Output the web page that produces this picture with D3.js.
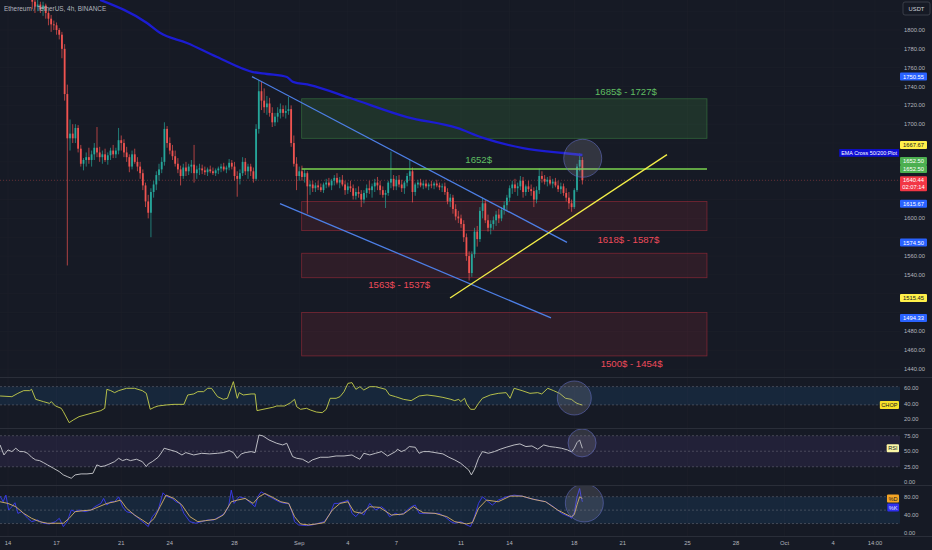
<!DOCTYPE html>
<html><head><meta charset="utf-8">
<script src="https://cdn.jsdelivr.net/npm/d3@7"></script>
<style>
html,body{margin:0;padding:0;background:#161a25;overflow:hidden;}
svg{display:block;font-family:"Liberation Sans",Arial,sans-serif;}
</style></head><body>
<svg id="c" width="932" height="550"></svg>
<script>
// ---------------- DATA ----------------
const title = "Ethereum / TetherUS, 4h, BINANCE";
const startDate = "2023-08-14 00:00";   // first 4h candle
// 4h candles, one day (6 bars) per group
const opens = [
1840,1843,1848,1846,1850,1845, 1842,1845,1840,1838,1830,1825, 1827,1822,1826,1818,1812,1806,
1805,1800,1795,1780,1732,1685, 1690,1685,1696,1674,1658,1662, 1665,1662,1668,1675,1670,1665,
1668,1662,1667,1672,1668,1672, 1683,1680,1670,1665,1655,1668, 1660,1655,1648,1635,1618,1606,
1628,1636,1646,1652,1660,1695, 1680,1672,1666,1658,1652,1645, 1654,1650,1655,1657,1648,1652,
1653,1651,1649,1652,1650,1648, 1651,1653,1655,1652,1654,1659, 1655,1645,1642,1648,1660,1650,
1655,1650,1642,1695,1735,1725, 1718,1722,1712,1702,1708,1712, 1716,1712,1714,1716,1680,1658,
1645,1650,1644,1648,1634,1636, 1632,1635,1633,1630,1636,1638, 1635,1640,1643,1638,1641,1636,
1630,1634,1632,1624,1628,1626, 1620,1627,1632,1630,1634,1638, 1635,1630,1625,1627,1638,1642,
1634,1641,1636,1632,1638,1645, 1650,1628,1636,1638,1635,1637, 1634,1636,1635,1637,1635,1633,
1634,1628,1618,1622,1610,1602, 1600,1594,1580,1560,1542,1562, 1586,1578,1608,1616,1598,1590,
1594,1598,1604,1600,1609,1614, 1622,1632,1636,1632,1634,1640, 1628,1634,1631,1629,1620,1630,
1645,1642,1639,1641,1637,1639, 1635,1631,1634,1627,1622,1616, 1612,1630,1655,1662];
const highs = [
1848,1852,1853,1856,1854,1849, 1850,1847,1843,1840,1833,1832, 1830,1830,1828,1820,1816,1810,
1808,1802,1798,1785,1742,1705, 1700,1700,1699,1678,1664,1670, 1675,1672,1680,1697,1676,1672,
1674,1670,1675,1678,1675,1696, 1688,1684,1676,1668,1672,1674, 1665,1660,1652,1638,1625,1632,
1640,1650,1658,1665,1702,1698, 1686,1678,1672,1664,1656,1658, 1660,1658,1662,1678,1656,1658,
1657,1655,1654,1656,1654,1653, 1655,1658,1659,1656,1663,1662, 1660,1650,1652,1665,1664,1658,
1658,1654,1700,1747,1745,1738, 1730,1728,1718,1712,1718,1722, 1720,1720,1729,1720,1688,1665,
1655,1656,1652,1650,1640,1640, 1638,1640,1637,1638,1642,1643, 1642,1646,1648,1644,1646,1640,
1638,1640,1636,1632,1634,1630, 1630,1636,1640,1637,1642,1644, 1640,1634,1630,1640,1671,1646,
1645,1646,1641,1640,1648,1662, 1654,1638,1641,1642,1640,1641, 1638,1640,1639,1641,1638,1637,
1638,1632,1626,1625,1615,1608, 1604,1598,1584,1565,1565,1590, 1592,1612,1622,1620,1604,1598,
1602,1608,1610,1612,1618,1625, 1635,1640,1642,1638,1645,1644, 1636,1640,1636,1633,1634,1653,
1650,1646,1644,1645,1642,1643, 1640,1638,1637,1632,1628,1620, 1632,1658,1669,1665];
const lows = [
1836,1839,1842,1841,1842,1838, 1838,1835,1832,1822,1818,1820, 1818,1815,1812,1805,1798,1800,
1795,1790,1770,1725,1550,1672, 1680,1680,1670,1655,1651,1655, 1658,1655,1662,1665,1660,1658,
1660,1657,1662,1664,1664,1668, 1672,1665,1660,1649,1652,1658, 1650,1642,1630,1612,1600,1580,
1622,1630,1640,1648,1656,1675, 1668,1662,1655,1648,1635,1642, 1645,1646,1648,1638,1642,1646,
1647,1646,1645,1648,1646,1645, 1647,1649,1650,1648,1651,1652, 1640,1623,1636,1645,1646,1642,
1645,1638,1640,1690,1715,1712, 1710,1708,1697,1698,1702,1706, 1708,1706,1710,1676,1655,1630,
1640,1640,1638,1605,1625,1628, 1628,1630,1628,1627,1632,1633, 1630,1635,1636,1632,1634,1625,
1626,1628,1620,1620,1622,1612, 1616,1622,1626,1622,1628,1630, 1625,1622,1611,1624,1632,1630,
1630,1633,1628,1626,1634,1640, 1617,1624,1632,1633,1631,1632, 1630,1632,1631,1633,1630,1628,
1625,1615,1612,1605,1598,1595, 1590,1575,1555,1534,1538,1558, 1570,1575,1600,1595,1586,1583,
1588,1592,1595,1597,1604,1608, 1618,1626,1628,1624,1630,1622, 1624,1628,1624,1612,1616,1626,
1638,1636,1634,1635,1632,1633, 1628,1626,1624,1618,1610,1607, 1610,1628,1650,1636];
const closes = [
1843,1848,1846,1850,1845,1842, 1845,1840,1838,1830,1825,1827, 1822,1826,1818,1812,1806,1805,
1800,1795,1780,1732,1685,1690, 1685,1696,1674,1658,1662,1665, 1662,1668,1675,1670,1665,1668,
1662,1667,1672,1668,1672,1683, 1680,1670,1665,1655,1668,1660, 1655,1648,1635,1618,1606,1628,
1636,1646,1652,1660,1695,1680, 1672,1666,1658,1652,1645,1654, 1650,1655,1657,1648,1652,1653,
1651,1649,1652,1650,1648,1651, 1653,1655,1652,1654,1659,1655, 1645,1642,1648,1660,1650,1655,
1650,1642,1695,1735,1725,1718, 1722,1712,1702,1708,1712,1716, 1712,1714,1716,1680,1658,1645,
1650,1644,1648,1634,1636,1632, 1635,1633,1630,1636,1638,1635, 1640,1643,1638,1641,1636,1630,
1634,1632,1624,1628,1626,1620, 1627,1632,1630,1634,1638,1635, 1630,1625,1627,1638,1642,1634,
1641,1636,1632,1638,1645,1650, 1628,1636,1638,1635,1637,1634, 1636,1635,1637,1635,1633,1634,
1628,1618,1622,1610,1602,1600, 1594,1580,1560,1542,1562,1586, 1578,1608,1616,1598,1590,1594,
1598,1604,1600,1609,1614,1622, 1632,1636,1632,1634,1640,1628, 1634,1631,1629,1620,1630,1645,
1642,1639,1641,1637,1639,1635, 1631,1634,1627,1622,1616,1612, 1630,1655,1662,1640.44];

// EMA 200 (days since start, price)
const emaSeries = [[5.69,1832],[8.59,1807.4],[9.39,1797],[11.06,1786.2],[12.92,1771.3],[15.14,1755.4],[16.01,1753.3],[17.24,1750.1],[17.61,1745],[18.67,1741.6],[21.14,1727.8],[24.66,1707.6],[27.75,1696],[29.36,1685.4],[31.83,1674.7],[34.3,1669.4],[35.5,1667.3]];
const emaName = "EMA Cross 50/200:Plot";

// drawings: [day, price] endpoints
const trendUpper = [[15.08,1750.55],[34.55,1574.50]];
const trendLower = [[16.81,1615.67],[33.56,1494.33]];
const trendYellow = [[27.32,1515.45],[40.73,1667.67]];
const levelLine = [[18.15,1652.5],[43.2,1652.5]];
const zoneDays = [18.15, 43.2];
const greenZones = [[1685,1727]];
const redZones = [[1587,1618],[1537,1563],[1454,1500]];
const zoneTexts = [
  ["1685$ - 1727$", 38.19, 1734.5, "g"],
  ["1652$", 29.09, 1662, "g"],
  ["1618$ - 1587$", 38.34, 1577.8, "r"],
  ["1563$ - 1537$", 24.18, 1529.3, "r"],
  ["1500$ - 1454$", 38.54, 1446.2, "r"]];
const mainCircle = [35.52, 1663.8];
const chopCircle = [35.0, 47.1];
const rsiCircle = [35.48, 63.4];
const stochCircle = [35.62, 66];

// price axis
const priceTicks = d3.range(1440, 1801, 20);
const lastPrice = 1640.44, countdown = "02:07:14";
const priceTags = [[1750.55,"1750.55","blue"],[1667.67,"1667.67","yellow"],[1652.50,"1652.50","green"],[1652.50,"1652.50","green"],
                   [1615.67,"1615.67","blue"],[1574.50,"1574.50","blue"],[1515.45,"1515.45","yellow"],[1494.33,"1494.33","blue"]];

// time axis
const timeTicks = [["2023-08-14 00:00","14"],["2023-08-17 00:00","17"],["2023-08-21 00:00","21"],["2023-08-24 00:00","24"],["2023-08-28 00:00","28"],
 ["2023-09-01 00:00","Sep"],["2023-09-04 00:00","4"],["2023-09-07 00:00","7"],["2023-09-11 00:00","11"],["2023-09-14 00:00","14"],["2023-09-18 00:00","18"],
 ["2023-09-21 00:00","21"],["2023-09-25 00:00","25"],["2023-09-28 00:00","28"],["2023-10-01 00:00","Oct"],["2023-10-04 00:00","4"],["2023-10-06 14:00","14:00"]];

// indicators (days since start, value)
const chopSeries = [[-0.49,49.7],[0.24,48.8],[0.61,53.1],[0.97,56.6],[1.34,56.6],[1.46,58.3],[1.71,45.4],[2.19,42.4],[2.56,40.2],[2.68,42.4],[2.93,36.8],[3.29,33.8],[3.42,29.5],[3.78,15.3],[4.03,18.7],[4.39,23.0],[5.13,27.3],[5.74,30.8],[5.98,33.8],[6.11,58.3],[6.35,56.6],[6.59,54.0],[6.84,56.6],[7.33,59.6],[7.82,59.6],[8.30,56.6],[8.55,53.1],[8.79,32.5],[9.04,35.1],[9.28,36.8],[9.77,38.1],[10.26,38.9],[10.87,38.9],[11.11,51.0],[11.48,52.3],[11.73,55.3],[12.09,55.3],[12.34,59.6],[12.58,59.6],[12.95,48.8],[13.31,45.4],[13.56,46.7],[13.93,68.2],[14.17,46.7],[14.29,54.0],[14.54,51.0],[15.03,52.3],[15.27,52.3],[15.39,30.8],[15.76,32.5],[16.37,35.1],[16.61,36.8],[17.10,36.8],[17.47,41.1],[17.71,45.4],[17.84,35.9],[18.08,32.5],[18.45,33.8],[18.69,31.6],[19.06,29.0],[19.42,28.2],[19.67,32.5],[19.91,46.7],[20.28,46.7],[20.52,48.8],[20.77,55.3],[21.01,66.0],[21.26,66.9],[21.50,58.3],[21.75,61.7],[21.99,57.4],[22.36,61.7],[22.72,61.7],[23.34,58.3],[23.58,51.0],[23.95,48.8],[24.44,45.4],[24.92,43.7],[25.41,49.7],[25.90,51.0],[26.39,49.7],[26.88,47.9],[27.37,45.4],[27.61,43.7],[27.86,45.4],[27.98,42.4],[28.22,46.7],[28.35,39.4],[28.59,32.5],[28.84,32.5],[29.08,40.2],[29.32,46.7],[29.81,51.0],[30.30,53.1],[30.79,54.0],[31.03,46.7],[31.28,59.6],[31.77,56.6],[32.26,53.1],[32.74,54.0],[32.99,52.3],[33.36,59.6],[33.72,56.6],[34.09,53.1],[34.46,46.7],[34.82,45.4],[35.0,42.4],[35.17,40.2],[35.33,39.0],[35.5,38.0]];
const rsiSeries = [[-0.49,60.1],[-0.25,44.0],[0.0,52.1],[0.24,49.4],[0.48,54.8],[0.73,49.4],[0.97,49.4],[1.22,46.7],[1.46,40.3],[1.71,36.0],[1.95,34.9],[2.19,31.7],[2.44,28.0],[2.81,22.6],[3.17,17.2],[3.42,11.9],[3.66,9.2],[3.91,6.5],[4.15,11.9],[4.52,13.5],[4.88,13.5],[5.25,14.5],[5.49,28.0],[5.74,25.3],[5.98,26.4],[6.23,29.0],[6.59,33.3],[6.84,38.7],[7.08,34.9],[7.33,37.1],[7.57,34.9],[7.94,37.1],[8.30,33.3],[8.55,25.3],[8.67,29.6],[8.92,33.3],[9.28,40.3],[9.53,49.4],[9.65,54.8],[10.02,52.1],[10.38,49.4],[10.75,44.0],[10.99,47.8],[11.48,44.0],[11.97,46.7],[12.46,45.7],[12.95,46.7],[13.31,47.8],[13.68,51.0],[13.93,47.8],[14.17,38.7],[14.42,45.7],[14.66,47.8],[15.03,49.4],[15.27,47.8],[15.51,76.2],[15.76,74.6],[16.13,68.2],[16.61,62.8],[16.98,60.1],[17.23,62.8],[17.59,41.4],[17.84,38.7],[18.20,37.1],[18.57,31.7],[18.81,36.0],[19.30,40.3],[19.79,40.3],[20.28,42.4],[20.77,42.4],[21.26,44.0],[21.50,40.3],[21.75,37.1],[21.99,46.7],[22.36,44.0],[22.72,46.7],[23.09,49.4],[23.46,42.4],[23.95,49.4],[24.07,53.2],[24.31,49.4],[24.56,52.1],[24.80,57.5],[25.17,56.4],[25.41,46.7],[25.66,49.4],[26.02,49.4],[26.39,47.8],[26.88,45.7],[27.25,40.3],[27.61,36.0],[27.98,30.6],[28.22,25.3],[28.47,19.9],[28.64,11.9],[28.83,21.0],[29.08,38.7],[29.32,49.4],[29.69,46.7],[30.06,49.4],[30.42,53.2],[30.79,56.4],[31.28,60.1],[31.64,61.8],[32.01,57.5],[32.38,58.5],[32.74,53.2],[33.11,60.1],[33.48,57.5],[33.84,56.4],[34.21,54.8],[34.58,52.1],[34.83,48.9],[35.0,54.8],[35.17,64.0],[35.33,68.2],[35.5,54.8]];
const stochK = [[-0.49,81.3],[-0.30,68.7],[-0.13,83.5],[0.04,50.2],[0.24,57.6],[0.43,66.5],[0.61,42.8],[0.85,46.5],[1.22,31.7],[1.46,24.3],[1.83,28.0],[2.19,20.6],[2.56,19.1],[2.93,24.3],[3.17,31.7],[3.42,13.2],[3.66,24.3],[3.91,50.2],[4.15,46.5],[4.39,50.2],[4.76,46.5],[5.13,50.2],[5.37,57.6],[5.74,65.0],[5.91,76.1],[6.11,61.3],[6.35,68.7],[6.59,68.7],[6.84,79.8],[7.08,57.6],[7.33,46.5],[7.69,42.8],[8.06,31.7],[8.43,20.6],[8.67,13.2],[8.92,35.4],[9.28,50.2],[9.58,88.7],[9.77,81.3],[10.14,76.1],[10.38,68.7],[10.63,65.0],[10.87,42.8],[11.24,24.3],[11.60,20.6],[11.97,24.3],[12.34,28.0],[12.70,28.0],[13.07,35.4],[13.39,42.8],[13.63,57.6],[13.80,94.6],[13.97,65.0],[14.29,79.8],[14.66,76.1],[15.03,65.0],[15.27,57.6],[15.44,79.8],[15.64,90.9],[16.00,83.5],[16.37,76.1],[16.74,68.7],[17.10,65.0],[17.35,65.0],[17.59,42.8],[17.71,24.3],[17.96,16.9],[18.45,15.4],[18.81,16.9],[19.18,20.6],[19.55,24.3],[19.91,42.8],[20.16,65.0],[20.40,65.0],[20.77,68.7],[21.01,72.4],[21.26,42.8],[21.50,35.4],[21.75,46.5],[21.99,39.1],[22.36,65.0],[22.72,50.2],[23.09,57.6],[23.34,50.2],[23.58,35.4],[23.95,42.8],[24.19,39.1],[24.44,42.8],[24.68,50.2],[24.92,57.6],[25.17,61.3],[25.41,42.8],[25.78,42.8],[26.15,42.8],[26.63,42.8],[27.00,35.4],[27.37,24.3],[27.61,20.6],[27.98,24.3],[28.35,16.9],[28.59,13.2],[28.83,35.4],[29.08,65.0],[29.32,79.8],[29.69,68.7],[29.93,61.3],[30.30,72.4],[30.79,79.8],[31.28,83.5],[31.77,81.3],[32.26,76.1],[32.74,72.4],[33.23,68.7],[33.72,57.6],[34.21,42.8],[34.70,35.4],[34.83,31.7],[35.0,45.0],[35.17,79.8],[35.33,98.3],[35.42,79.8],[35.5,68.7]];
const stochD = [[-0.49,68.7],[0.0,65.0],[0.48,57.6],[0.97,42.8],[1.46,31.7],[1.95,24.3],[2.44,20.6],[2.93,20.6],[3.42,20.6],[3.78,31.7],[4.15,46.5],[4.64,48.7],[5.13,50.2],[5.62,57.6],[6.11,65.0],[6.59,68.7],[6.96,72.4],[7.33,53.9],[7.82,39.1],[8.30,28.0],[8.67,19.1],[9.04,31.7],[9.40,57.6],[9.77,83.5],[10.26,76.1],[10.75,61.3],[11.24,35.4],[11.73,24.3],[12.21,26.5],[12.83,29.5],[13.31,39.1],[13.80,68.7],[14.17,72.4],[14.66,76.1],[15.15,65.0],[15.51,79.8],[15.88,87.2],[16.37,78.3],[16.86,68.7],[17.35,65.0],[17.71,35.4],[18.08,19.1],[18.57,16.9],[19.06,19.1],[19.55,22.1],[20.04,50.2],[20.52,65.0],[21.01,68.7],[21.38,46.5],[21.87,42.8],[22.36,57.6],[22.97,56.1],[23.70,39.1],[24.44,41.3],[25.05,57.6],[25.66,44.3],[26.39,42.8],[27.12,35.4],[27.61,24.3],[28.35,19.1],[28.71,22.1],[29.08,53.9],[29.57,72.4],[30.30,68.7],[31.03,81.3],[31.77,81.3],[32.50,73.9],[33.23,68.7],[33.97,50.2],[34.70,36.9],[34.83,35.4],[35.0,40.0],[35.17,62.0],[35.33,79.8],[35.5,76.1]];
const chopBands = [61.8, 38.2], chopTicks = [20, 40, 60];
const rsiBands = [75, 50, 25], rsiTicks = [0, 25, 50, 75];
const stochBands = [80, 50, 20], stochTicks = [0, 40, 80];

// ---------------- RENDER ----------------
const svg = d3.select("#c");
const PR = 900;
const DAY = 864e5;
const parseT = d3.utcParse("%Y-%m-%d %H:%M");
const t0 = parseT(startDate).getTime();
const tOf = d => new Date(t0 + d * DAY);

const x = d3.scaleUtc().domain([new Date(t0), new Date(t0 + 54 * DAY)]).range([8, 8 + 54 * 16.18]);
const yP = d3.scaleLinear().domain([1440, 1800]).range([369.1, 30]);
const yChop = d3.scaleLinear().domain([20, 60]).range([419, 388]);
const yRsi = d3.scaleLinear().domain([0, 75]).range([482.3, 435.7]);
const yStoch = d3.scaleLinear().domain([0, 80]).range([532.5, 496.7]);
const panes = {main: [0, 377], chop: [378, 428], rsi: [429, 485], stoch: [486, 536]};

const C = {bg: "#161a25", grid: "#1c2029", sep: "#2a2e39", txt: "#b2b5be", up: "#26a69a", dn: "#ef5350"};

svg.append("rect").attr("width", 932).attr("height", 550).attr("fill", C.bg);
const defs = svg.append("defs");
Object.entries(panes).forEach(([k, [a, b]]) => {
  defs.append("clipPath").attr("id", "clip-" + k).append("rect").attr("x", 0).attr("y", a).attr("width", PR).attr("height", b - a);
});

// grid
const grid = svg.append("g");
timeTicks.forEach(([t]) => {
  const xx = x(parseT(t));
  grid.append("line").attr("x1", xx).attr("x2", xx).attr("y1", 0).attr("y2", 536).attr("stroke", C.grid).attr("stroke-width", 0.7);
});
priceTicks.concat([1820]).forEach(p => {
  grid.append("line").attr("x1", 0).attr("x2", PR).attr("y1", yP(p)).attr("y2", yP(p)).attr("stroke", C.grid).attr("stroke-width", 0.7);
});

// separators
[377.5, 428.5, 485.5, 536.5].forEach(yy => svg.append("line").attr("x1", 0).attr("x2", 932).attr("y1", yy).attr("y2", yy).attr("stroke", C.sep).attr("stroke-width", 1));

// ----- main pane -----
const gm = svg.append("g").attr("clip-path", "url(#clip-main)");
const zx0 = x(tOf(zoneDays[0])), zx1 = x(tOf(zoneDays[1]));
greenZones.forEach(([lo, hi]) => gm.append("rect").attr("x", zx0).attr("width", zx1 - zx0).attr("y", yP(hi)).attr("height", yP(lo) - yP(hi))
  .attr("fill", "rgba(76,175,80,0.17)").attr("stroke", "rgba(76,175,80,0.45)").attr("stroke-width", 0.8));
redZones.forEach(([lo, hi]) => gm.append("rect").attr("x", zx0).attr("width", zx1 - zx0).attr("y", yP(hi)).attr("height", yP(lo) - yP(hi))
  .attr("fill", "rgba(242,54,69,0.11)").attr("stroke", "rgba(242,54,69,0.42)").attr("stroke-width", 0.8));

// last price line
gm.append("line").attr("x1", 0).attr("x2", PR).attr("y1", yP(lastPrice)).attr("y2", yP(lastPrice))
  .attr("stroke", C.dn).attr("stroke-opacity", 0.5).attr("stroke-width", 0.7).attr("stroke-dasharray", "1,2");

// candles
const candles = opens.map((o, i) => ({t: new Date(t0 + i * 4 * 3600e3), o, h: highs[i], l: lows[i], c: closes[i]}));
gm.selectAll("line.wick").data(candles).join("line").attr("class", "wick")
  .attr("x1", d => x(d.t)).attr("x2", d => x(d.t)).attr("y1", d => yP(d.h)).attr("y2", d => yP(d.l))
  .attr("stroke", d => d.c >= d.o ? C.up : C.dn).attr("stroke-width", 0.7);
gm.selectAll("rect.body").data(candles).join("rect").attr("class", "body")
  .attr("x", d => x(d.t) - 0.9).attr("width", 1.8)
  .attr("y", d => yP(Math.max(d.o, d.c))).attr("height", d => Math.max(0.7, Math.abs(yP(d.o) - yP(d.c))))
  .attr("fill", d => d.c >= d.o ? C.up : C.dn);

// EMA
const lineP = d3.line().x(d => x(tOf(d[0]))).y(d => yP(d[1]));
gm.append("path").attr("d", lineP.curve(d3.curveMonotoneX)(emaSeries)).attr("fill", "none").attr("stroke", "#1c1cd2").attr("stroke-width", 2.3);
lineP.curve(d3.curveLinear);
// trendlines
gm.append("path").attr("d", lineP(trendUpper)).attr("stroke", "#4d7fe6").attr("stroke-width", 1.3).attr("fill", "none");
gm.append("path").attr("d", lineP(trendLower)).attr("stroke", "#4d7fe6").attr("stroke-width", 1.3).attr("fill", "none");
gm.append("path").attr("d", lineP(levelLine)).attr("stroke", "#7ad34e").attr("stroke-width", 1.5).attr("fill", "none");
gm.append("path").attr("d", lineP(trendYellow)).attr("stroke", "#f3ee48").attr("stroke-width", 1.3).attr("fill", "none");

// circle
function circ(g, cx, cy, r) {
  g.append("circle").attr("cx", cx).attr("cy", cy).attr("r", r).attr("fill", "rgba(150,152,165,0.22)").attr("stroke", "rgba(95,105,190,0.75)").attr("stroke-width", 0.8);
}
circ(gm, x(tOf(mainCircle[0])), yP(mainCircle[1]), 19);

// zone texts
zoneTexts.forEach(([t, d, p, k]) => gm.append("text").attr("x", x(tOf(d))).attr("y", yP(p)).attr("text-anchor", "middle").attr("dominant-baseline", "central")
  .attr("font-size", 9.6).attr("fill", k === "g" ? "#5fbe62" : "#ee4a5a").text(t));

// title
svg.append("text").attr("x", 4).attr("y", 8.5).attr("dominant-baseline", "central").attr("font-size", 6.4).attr("fill", C.txt).text(title);

// ----- indicator panes -----
function pane(key, ys, bands, fillBand, fillColor, series) {
  const g = svg.append("g").attr("clip-path", "url(#clip-" + key + ")");
  g.append("rect").attr("x", 0).attr("width", PR).attr("y", ys(fillBand[0])).attr("height", ys(fillBand[1]) - ys(fillBand[0])).attr("fill", fillColor);
  bands.forEach(b => g.append("line").attr("x1", 0).attr("x2", PR).attr("y1", ys(b)).attr("y2", ys(b))
    .attr("stroke", "#787b86").attr("stroke-opacity", 0.75).attr("stroke-width", 0.6).attr("stroke-dasharray", "2,2"));
  const ln = d3.line().x(d => x(tOf(d[0]))).y(d => ys(d[1]));
  series.forEach(([data, col]) => g.append("path").attr("d", ln(data)).attr("fill", "none").attr("stroke", col).attr("stroke-width", 0.9));
  return g;
}
const gc = pane("chop", yChop, chopBands, [61.8, 38.2], "rgba(33,150,243,0.11)", [[chopSeries, "#c6cf4c"]]);
circ(gc, x(tOf(chopCircle[0])), yChop(chopCircle[1]), 17);
const gr = pane("rsi", yRsi, rsiBands, [75, 25], "rgba(126,87,194,0.12)", [[rsiSeries, "#cdced3"]]);
circ(gr, x(tOf(rsiCircle[0])), yRsi(rsiCircle[1]), 14);
const gs = pane("stoch", yStoch, stochBands, [80, 20], "rgba(33,150,243,0.11)", [[stochK, "#3b3bf2"], [stochD, "#d8b26a"]]);
circ(gs, x(tOf(stochCircle[0])), yStoch(stochCircle[1]), 19);

// ----- price tags (stacked) -----
const tagCol = {blue: ["#2962ff", "#fff"], yellow: ["#fff04a", "#131722"], green: ["#4caf50", "#fff"]};
const TH = 8;
const lastY = yP(lastPrice);
const items = priceTags.map(([p, lab, k]) => ({y: yP(p), lab, k}));
items.push({y: yP(emaSeries[emaSeries.length - 1][1]), lab: emaName, k: "ema"});
const above = items.filter(d => d.y < lastY).sort((a, b) => b.y - a.y);
let lim = lastY - 4;
above.forEach(d => { d.cy = Math.min(d.y, lim - TH / 2); lim = d.cy - TH / 2; });
const below = items.filter(d => d.y >= lastY).sort((a, b) => a.y - b.y);
lim = lastY - 4 + 15;
below.forEach(d => { d.cy = Math.max(d.y, lim + TH / 2); lim = d.cy + TH / 2; });
// occupied axis spans (for hiding covered tick labels)
const occupied = items.filter(d => d.k !== "ema").map(d => [d.cy - TH / 2, d.cy + TH / 2]);
occupied.push([lastY - 4, lastY + 11], [0, 16]);

// ----- axes -----
const ax = svg.append("g").attr("font-size", 5.8).attr("fill", C.txt);
priceTicks.forEach(p => {
  const yy = yP(p);
  if (occupied.some(([a, b]) => yy + 2.8 > a && yy - 2.8 < b)) return;
  ax.append("text").attr("x", 904).attr("y", yy).attr("dominant-baseline", "central").text(p.toFixed(2));
});
chopTicks.forEach(v => ax.append("text").attr("x", 904).attr("y", yChop(v)).attr("dominant-baseline", "central").text(v.toFixed(2)));
rsiTicks.forEach(v => ax.append("text").attr("x", 904).attr("y", yRsi(v)).attr("dominant-baseline", "central").text(v.toFixed(2)));
stochTicks.forEach(v => ax.append("text").attr("x", 904).attr("y", yStoch(v)).attr("dominant-baseline", "central").text(v.toFixed(2)));
timeTicks.forEach(([t, lab]) => ax.append("text").attr("x", x(parseT(t))).attr("y", 543).attr("text-anchor", "middle").attr("dominant-baseline", "central").text(lab));

// USDT box
svg.append("rect").attr("x", 903).attr("y", 2).attr("width", 27).attr("height", 13).attr("rx", 2).attr("fill", C.bg).attr("stroke", "#434651").attr("stroke-width", 0.8);
svg.append("text").attr("x", 916.5).attr("y", 8.7).attr("text-anchor", "middle").attr("dominant-baseline", "central").attr("font-size", 5.8).attr("fill", "#d1d4dc").text("USDT");

const tg = svg.append("g").attr("font-size", 5.8);
items.forEach(d => {
  if (d.k === "ema") {
    const t = tg.append("text").attr("x", 897).attr("y", d.cy).attr("text-anchor", "end").attr("dominant-baseline", "central").attr("font-size", 5.4).attr("fill", "#fff").text(d.lab);
    const w = t.node().getComputedTextLength();
    tg.insert("rect", "text").attr("x", 897 - w - 2).attr("y", d.cy - 3.8).attr("width", w + 4).attr("height", 7.6).attr("fill", "#0d0dd6");
    return;
  }
  const [bg, fg] = tagCol[d.k];
  tg.append("rect").attr("x", 900).attr("y", d.cy - TH / 2).attr("width", 27).attr("height", TH).attr("rx", 1).attr("fill", bg);
  tg.append("text").attr("x", 913.5).attr("y", d.cy + 0.2).attr("text-anchor", "middle").attr("dominant-baseline", "central").attr("fill", fg).text(d.lab);
});
tg.append("rect").attr("x", 900).attr("y", lastY - 4).attr("width", 27).attr("height", 15).attr("rx", 1).attr("fill", "#f23645");
tg.append("text").attr("x", 913.5).attr("y", lastY + 0.2).attr("text-anchor", "middle").attr("dominant-baseline", "central").attr("fill", "#fff").text(lastPrice.toFixed(2));
tg.append("text").attr("x", 913.5).attr("y", lastY + 7).attr("text-anchor", "middle").attr("dominant-baseline", "central").attr("fill", "#fff").text(countdown);

// indicator name tags
function nameTag(cy, lab, bg, fg) {
  const t = tg.append("text").attr("x", 897.5).attr("y", cy + 0.2).attr("text-anchor", "end").attr("dominant-baseline", "central").attr("fill", fg).attr("font-size", 5.6).text(lab);
  const w = t.node().getComputedTextLength();
  tg.insert("rect", "text").attr("x", 897.5 - w - 1.5).attr("y", cy - 4).attr("width", w + 3).attr("height", 8).attr("rx", 1).attr("fill", bg);
}
nameTag(yChop(chopSeries[chopSeries.length - 1][1]), "CHOP", "#f7e12a", "#131722");
nameTag(yRsi(rsiSeries[rsiSeries.length - 1][1]), "RSI", "#fbf7a6", "#131722");
const dY = yStoch(stochD[stochD.length - 1][1]);
const kY = Math.max(yStoch(stochK[stochK.length - 1][1]), dY + 9);
nameTag(dY, "%D", "#f5a524", "#131722");
nameTag(kY, "%K", "#2f2ff0", "#e8e8ff");
</script></body></html>
